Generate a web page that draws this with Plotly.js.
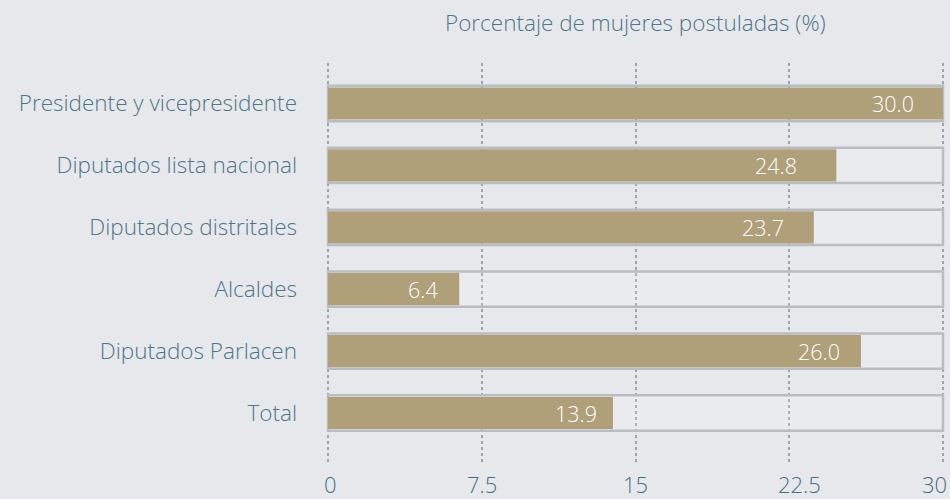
<!DOCTYPE html>
<html>
<head>
<meta charset="utf-8">
<script src="https://cdn.plot.ly/plotly-3.0.1.min.js"></script>
<style>
html,body{margin:0;padding:0;background:#e7e8ec;}
#chart{width:950px;height:499px;}
</style>
</head>
<body>
<div id="chart"></div>
<script>
const categories = ["Presidente y vicepresidente","Diputados lista nacional","Diputados distritales","Alcaldes","Diputados Parlacen","Total"];
const values = [30.0, 24.8, 23.7, 6.4, 26.0, 13.9];
const maxValue = 30;
const tickVals = [0, 7.5, 15, 22.5, 30];
const tickText = ["0","7.5","15","22.5","30"];
const chartTitle = "Porcentaje de mujeres postuladas (%)";

// pixel offsets (styling only)
const labelShift = [-27, -37, -28, -19, -19, -14];
const tickShift = [2, 0, 0, 10, -8];

const textColor = "#4f7688";
const tickColor = "#46707f";
const fontFam = "'Open Sans', Lato, sans-serif";

const track = {
  type: "bar", orientation: "h",
  y: categories, x: categories.map(() => maxValue),
  width: 0.57,
  marker: {color: "rgba(255,255,255,0.15)", line: {color: "#bbbcc1", width: 2.5}},
  hoverinfo: "skip", showlegend: false
};
const bars = {
  type: "bar", orientation: "h",
  y: categories, x: values,
  width: 0.52,
  marker: {color: "#b0a079"},
  showlegend: false
};

const valueLabels = values.map((v, i) => ({
  x: v, y: categories[i], xref: "x", yref: "y",
  text: v.toFixed(1), showarrow: false,
  xanchor: "right", yanchor: "middle", xshift: labelShift[i],
  font: {size: 21.5, color: "#ffffff", family: fontFam, weight: 300}
}));

const tickLabels = tickVals.map((t, i) => ({
  x: t, y: 0, xref: "x", yref: "paper",
  text: tickText[i], showarrow: false,
  xanchor: "center", yanchor: "middle", xshift: tickShift[i], yshift: -19,
  font: {size: 22, color: tickColor, family: fontFam, weight: 300}
}));

const layout = {
  width: 950, height: 499,
  paper_bgcolor: "#e7e8ec", plot_bgcolor: "#e7e8ec",
  margin: {l: 326, r: 5, t: 63, b: 34},
  barmode: "overlay",
  font: {family: fontFam, color: textColor},
  xaxis: {
    range: [-0.1, 30.1], tickvals: tickVals, showticklabels: false,
    showgrid: true, gridcolor: "#9aa5b0", gridwidth: 2, griddash: "dot",
    zeroline: false, showline: false, ticks: "", fixedrange: true
  },
  yaxis: {
    range: [5.84, -0.654], showgrid: false, zeroline: false, ticks: "",
    tickfont: {size: 22.5, color: textColor, family: fontFam, weight: 300},
    ticklabelstandoff: 28, fixedrange: true
  },
  annotations: [{
    text: chartTitle, xref: "paper", yref: "paper", x: 0.5, y: 1,
    yshift: 41, xanchor: "center", yanchor: "middle", showarrow: false,
    font: {size: 22.5, color: textColor, family: fontFam, weight: 300}
  }].concat(valueLabels, tickLabels)
};

Plotly.newPlot("chart", [track, bars], layout, {displayModeBar: false, staticPlot: true});
</script>
</body>
</html>
